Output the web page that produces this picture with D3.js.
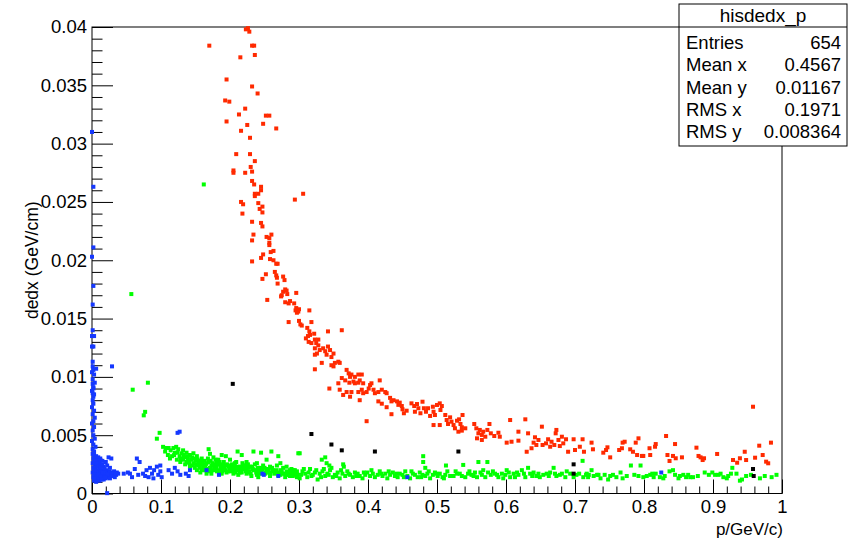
<!DOCTYPE html>
<html><head><meta charset="utf-8">
<script src="https://cdn.jsdelivr.net/npm/d3@7"></script>
<style>body{margin:0;background:#fff}svg{display:block}text{font-family:"Liberation Sans",Arial,Helvetica,sans-serif}</style>
</head><body><svg id="c" width="850" height="540"></svg>
<script>
// red band
const protonData=[
[0.223,0.0398],[0.226,0.0399],[0.228,0.0396],[0.170,0.0384],[0.232,0.0384],[0.235,0.0384],[0.215,0.0374],[0.236,0.0376],[0.195,0.0355],[0.232,0.0349],[0.240,0.0343],[0.193,0.0337],[0.199,0.0336],[0.222,0.0330],[0.213,0.0325],[0.252,0.0324],[0.257,0.0324],[0.195,0.0319],[0.225,0.0316],[0.248,0.0317],[0.267,0.0313],[0.216,0.0311],[0.229,0.0305],[0.209,0.0291],[0.229,0.0291],[0.236,0.0285],[0.230,0.0280],[0.205,0.0277],[0.205,0.0275],[0.222,0.0275],[0.232,0.0276],[0.232,0.0268],[0.235,0.0265],[0.245,0.0263],[0.245,0.0260],[0.236,0.0257],[0.241,0.0257],[0.236,0.0255],[0.306,0.0257],[0.294,0.0252],[0.216,0.0250],[0.219,0.0248],[0.241,0.0249],[0.247,0.0246],[0.243,0.0244],[0.247,0.0241],[0.218,0.0240],[0.232,0.0233],[0.245,0.0232],[0.247,0.0229],[0.234,0.0222],[0.232,0.0217],[0.253,0.0220],[0.257,0.0219],[0.260,0.0222],[0.257,0.0215],[0.257,0.0213],[0.263,0.0208],[0.259,0.0207],[0.248,0.0205],[0.245,0.0202],[0.232,0.0199],[0.258,0.0201],[0.263,0.0200],[0.267,0.0197],[0.269,0.0197],
[0.252,0.0188],[0.247,0.0184],[0.265,0.0190],[0.267,0.0187],[0.268,0.0185],[0.269,0.0180],[0.277,0.0186],[0.279,0.0183],[0.280,0.0175],[0.277,0.0173],[0.275,0.0170],[0.274,0.0169],[0.282,0.0174],[0.283,0.0171],[0.296,0.0172],[0.254,0.0166],[0.280,0.0164],[0.285,0.0163],[0.287,0.0165],[0.293,0.0163],[0.315,0.0157],[0.295,0.0157],[0.297,0.0155],[0.299,0.0156],[0.300,0.0158],[0.296,0.0159],[0.285,0.0147],[0.300,0.0148],[0.302,0.0145],[0.304,0.0144],[0.318,0.0147],[0.312,0.0142],[0.315,0.0139],[0.316,0.0136],[0.313,0.0135],[0.342,0.0139],[0.362,0.0140],[0.322,0.0137],[0.310,0.0133],[0.314,0.0130],[0.318,0.0129],[0.323,0.0132],[0.328,0.0132],[0.325,0.0129],
[0.323,0.01245],[0.326,0.0120],[0.328,0.0127],[0.330,0.0123],[0.335,0.01245],[0.338,0.0122],[0.340,0.0119],[0.342,0.0126],[0.345,0.0123],[0.347,0.0117],[0.350,0.0120],[0.323,0.0119],[0.333,0.0112],[0.323,0.01065],[0.347,0.0110],[0.352,0.0112],[0.357,0.0113],[0.359,0.0112],[0.350,0.0109],[0.369,0.0106],[0.372,0.0103],[0.374,0.0100],[0.376,0.0102],[0.381,0.0100],[0.386,0.0102],[0.391,0.0102],[0.379,0.0096],[0.381,0.00945],[0.386,0.0095],[0.388,0.0097],[0.393,0.00945],[0.367,0.0097],[0.373,0.0095],[0.362,0.0099],[0.357,0.00945],[0.359,0.0089],[0.364,0.00845],[0.369,0.0087],[0.374,0.0083],[0.376,0.0087],[0.344,0.0090],[0.388,0.0080],[0.386,0.0087],[0.391,0.0089],[0.393,0.0086],[0.398,0.0087],[0.401,0.0090],[0.403,0.0093],[0.405,0.00945],[0.408,0.0089],[0.410,0.0086],[0.415,0.0087],[0.417,0.0097],[0.420,0.0089],[0.425,0.0087],[0.427,0.0086],[0.415,0.0079],[0.420,0.0077],[0.427,0.0074],[0.432,0.0082],[0.434,0.0079],[0.437,0.0080],[0.442,0.0079],[0.444,0.0076],[0.434,0.0068],[0.398,0.0062],
[0.446,0.00779],[0.449,0.0075],[0.450,0.00722],[0.456,0.0071],[0.452,0.00688],[0.463,0.00773],[0.467,0.0075],[0.471,0.00767],[0.468,0.00701],[0.473,0.00731],[0.476,0.00688],[0.479,0.00787],[0.481,0.00731],[0.484,0.00701],[0.487,0.00731],[0.490,0.00665],[0.494,0.00744],[0.495,0.00701],[0.497,0.00673],[0.500,0.00759],[0.504,0.00773],[0.505,0.00716],[0.507,0.0075],[0.495,0.00587],[0.504,0.00587],[0.512,0.00673],[0.514,0.0063],[0.519,0.00653],[0.516,0.00596],[0.521,0.00616],[0.524,0.00587],[0.526,0.00559],[0.529,0.00624],[0.532,0.00636],[0.534,0.00596],[0.536,0.00568],[0.537,0.00673],[0.536,0.00539],[0.531,0.0053],[0.541,0.00559],[0.554,0.00596],[0.557,0.00559],[0.560,0.00516],[0.562,0.00545],[0.565,0.00502],[0.567,0.0053],[0.570,0.00487],[0.558,0.00473],[0.565,0.00459],[0.573,0.00545],[0.576,0.00596],[0.578,0.00516],[0.583,0.00493],[0.589,0.00521],[0.591,0.00487],[0.601,0.00436],[0.608,0.00444],[0.606,0.0063],[0.618,0.0053],[0.618,0.00453],[0.628,0.00636],[0.632,0.00516],[0.630,0.00358],[0.637,0.00388],[0.640,0.00436],[0.642,0.00482],[0.644,0.00416],[0.647,0.00459],[0.652,0.00573],[0.653,0.00416],[0.658,0.0043],[0.661,0.00465],[0.664,0.00401],[0.666,0.00444],[0.670,0.00416],[0.672,0.00516],[0.673,0.00545],[0.676,0.00459],[0.678,0.00407],[0.681,0.00487],[0.683,0.0043],[0.687,0.00465],[0.690,0.00358],[0.698,0.00465],[0.700,0.00373],[0.707,0.00401],[0.711,0.00465],[0.713,0.00358],[0.724,0.00436],[0.726,0.00379],
[0.741,0.0035],[0.745,0.00373],[0.747,0.00396],[0.751,0.0031],[0.764,0.00373],[0.768,0.00388],[0.769,0.00436],[0.772,0.00444],[0.780,0.00379],[0.784,0.00358],[0.788,0.00436],[0.792,0.00473],[0.790,0.0033],[0.797,0.00322],[0.799,0.00322],[0.808,0.00388],[0.809,0.0033],[0.816,0.00401],[0.817,0.00424],[0.832,0.00493],[0.834,0.0033],[0.837,0.00279],[0.842,0.00322],[0.845,0.00424],[0.846,0.00302],[0.855,0.0031],[0.876,0.00393],[0.879,0.00322],[0.882,0.0031],[0.885,0.00287],[0.887,0.00302],[0.906,0.00339],[0.929,0.00287],[0.935,0.00264],[0.939,0.00302],[0.946,0.00358],[0.948,0.00287],[0.958,0.00744],[0.961,0.00307],[0.967,0.0041],[0.972,0.0033],[0.977,0.00273],[0.980,0.00259],[0.984,0.00436]
];
// green band
const pionData=[
[0.057,0.0171],[0.081,0.0095],[0.059,0.0089],[0.077,0.0070],[0.075,0.0067],[0.094,0.0047],[0.098,0.0052],[0.162,0.0265],
[0.103,0.0040],[0.107,0.0039],[0.111,0.0039],[0.118,0.0039],[0.122,0.0040],[0.125,0.0038],[0.130,0.00345],[0.132,0.0037],[0.137,0.0035],[0.142,0.0033],[0.147,0.00345],[0.152,0.0032],[0.159,0.0030],[0.169,0.0038],[0.171,0.0034],[0.176,0.0031],[0.183,0.0029],[0.188,0.0033],[0.194,0.0032],[0.200,0.0029],[0.211,0.0036],[0.217,0.0033],[0.224,0.0027],[0.234,0.0036],[0.245,0.0035],[0.253,0.0029],[0.260,0.0036],[0.270,0.0032],[0.273,0.0026],[0.282,0.0023],[0.292,0.0020],[0.299,0.00345],
[0.116,0.0032],[0.123,0.0029],[0.128,0.0027],[0.132,0.0029],[0.135,0.0025],[0.140,0.0027],[0.142,0.0023],[0.147,0.0026],[0.149,0.0022],[0.154,0.0024],[0.159,0.0020],[0.164,0.0023],[0.166,0.0026],[0.171,0.0022],[0.176,0.0024],[0.178,0.0020],[0.181,0.0027],[0.186,0.0023],[0.190,0.0024],[0.193,0.0020],[0.198,0.0023],[0.202,0.0022],[0.207,0.0026],[0.210,0.0020],[0.215,0.0023],[0.219,0.0024],[0.224,0.0021],[0.229,0.0023],[0.234,0.0020],[0.239,0.0026],[0.244,0.0022],[0.248,0.0024],[0.253,0.0020],[0.258,0.0023],[0.263,0.0019],[0.268,0.0024],[0.273,0.0020],[0.277,0.0022],[0.282,0.0019],[0.287,0.0020],[0.292,0.0017],[0.297,0.0019],
[0.152,0.0020],[0.157,0.0018],[0.161,0.0021],[0.166,0.0017],[0.173,0.0017],[0.181,0.0019],[0.188,0.0017],[0.195,0.0018],[0.205,0.0017],[0.212,0.0016],[0.217,0.0018],[0.224,0.0017],[0.231,0.0015],[0.239,0.0016],[0.241,0.0014],[0.251,0.0017],[0.258,0.0015],[0.273,0.0016],[0.280,0.0014],[0.287,0.0015],[0.297,0.0014],
[0.106,0.0036],[0.110,0.0033],[0.113,0.0030],[0.120,0.0035],[0.127,0.0032],[0.134,0.0031],[0.139,0.0030],[0.144,0.0029],[0.150,0.0028],[0.155,0.0027],[0.160,0.0026],[0.163,0.0028],[0.168,0.0030],[0.172,0.0028],[0.175,0.0026],[0.179,0.0029],[0.182,0.0025],[0.185,0.0027],[0.187,0.0021],[0.191,0.0027],[0.196,0.0025],[0.199,0.0021],[0.203,0.0025],[0.206,0.0023],[0.209,0.0027],[0.213,0.0021],[0.218,0.0026],[0.221,0.0022],[0.226,0.0025],[0.228,0.0019],[0.232,0.0023],[0.236,0.0025],[0.238,0.0018],[0.242,0.0020],[0.246,0.0019],[0.250,0.0022],[0.255,0.0021],[0.257,0.0018],[0.261,0.0022],[0.265,0.0017],[0.267,0.0020],[0.271,0.0018],[0.275,0.0019],[0.279,0.0017],[0.284,0.0018],[0.289,0.0017],[0.294,0.0016],[0.157,0.0025],[0.146,0.0024],[0.137,0.0027],[0.163,0.0020],[0.170,0.0019],[0.177,0.0022],[0.184,0.0018],[0.192,0.0022],[0.201,0.0019],[0.208,0.0018],[0.216,0.0020],[0.223,0.0019],[0.230,0.0017],
[0.114,0.0037],[0.119,0.0033],[0.124,0.0035],[0.129,0.0030],[0.133,0.0033],[0.138,0.0032],[0.141,0.0026],[0.145,0.0031],[0.148,0.0030],[0.151,0.0025],[0.153,0.0029],[0.156,0.0022],[0.158,0.0028],[0.161,0.0024],[0.165,0.0025],[0.167,0.0021],[0.169,0.0027],[0.173,0.0024],[0.174,0.0020],[0.178,0.0025],[0.180,0.0022],[0.183,0.0020],[0.186,0.0025],[0.189,0.0019],[0.190,0.0021],[0.194,0.0024],[0.197,0.0019],[0.200,0.0024],[0.204,0.0020],[0.207,0.0021],[0.211,0.0023],[0.214,0.0018],[0.219,0.0021],[0.222,0.0024],[0.225,0.0018],[0.227,0.0022],[0.233,0.0021],[0.237,0.0020],[0.240,0.0022],[0.243,0.0017],[0.247,0.0021],[0.252,0.0018],[0.256,0.0020],[0.259,0.0017],[0.262,0.0020],[0.266,0.0019],[0.270,0.0016],[0.276,0.0017],[0.281,0.0016],[0.285,0.0016],
[0.287,0.0018],[0.291,0.0015],[0.294,0.0020],[0.298,0.0016],[0.301,0.0013],[0.305,0.0019],[0.309,0.0017],[0.312,0.0014],[0.316,0.0021],[0.320,0.0016],[0.323,0.0018],[0.327,0.0012],[0.330,0.0017],[0.334,0.0019],[0.338,0.0015],[0.341,0.0017],[0.345,0.0020],[0.349,0.0014],[0.352,0.0016],[0.356,0.0018],[0.359,0.0013],[0.363,0.0017],[0.367,0.0015],[0.370,0.0019],[0.374,0.0016],[0.378,0.0014],[0.381,0.0018],[0.385,0.0017],[0.388,0.0015],[0.392,0.0013],[0.396,0.0016],[0.399,0.0018],[0.403,0.0015],[0.407,0.0017],[0.410,0.0014],[0.414,0.0016],[0.417,0.0019],[0.421,0.0015],[0.425,0.0017],[0.428,0.0013],[0.432,0.0016],[0.436,0.0018],[0.439,0.0015],[0.443,0.0014],[0.446,0.0017],[0.450,0.0016],[0.454,0.0019],[0.457,0.0015],[0.461,0.0013],[0.465,0.0017],[0.468,0.0016],[0.472,0.0014],[0.475,0.0018],[0.479,0.0016],[0.483,0.0015],[0.486,0.0017],[0.490,0.0013],[0.494,0.0016],[0.497,0.0018],[0.501,0.0015],[0.504,0.0017],[0.508,0.0014],[0.512,0.0016],[0.515,0.0019],[0.519,0.0015],
[0.289,0.0021],[0.296,0.0017],[0.303,0.0016],[0.307,0.0021],[0.314,0.0018],[0.318,0.0015],[0.325,0.0020],[0.332,0.0014],[0.336,0.0021],[0.343,0.0016],[0.347,0.0022],[0.354,0.0015],[0.361,0.0020],[0.372,0.0017],[0.383,0.0015],[0.394,0.0018],[0.405,0.0020],[0.419,0.0017],[0.430,0.0019],[0.441,0.0017],[0.452,0.0014],[0.463,0.0019],[0.477,0.0014],[0.488,0.0019],[0.499,0.0017],[0.510,0.0013],
[0.301,0.00345],[0.333,0.0029],[0.338,0.0031],[0.340,0.0026],[0.344,0.0024],[0.364,0.0025],[0.365,0.0023],[0.480,0.0032],[0.480,0.0027],[0.483,0.0022],[0.513,0.0024],
[0.524,0.0015],[0.529,0.0017],[0.533,0.0017],[0.538,0.00245],[0.541,0.0014],[0.545,0.0017],[0.550,0.0016],[0.555,0.0018],[0.558,0.0014],[0.560,0.0027],[0.565,0.0016],[0.567,0.0020],[0.570,0.0014],[0.573,0.0027],[0.574,0.0018],[0.578,0.0016],[0.584,0.0017],[0.589,0.0014],[0.594,0.0017],[0.599,0.0016],[0.601,0.0020],[0.606,0.0014],[0.611,0.0017],[0.613,0.0014],[0.618,0.0016],[0.623,0.0020],[0.628,0.0014],[0.632,0.0022],[0.635,0.0017],[0.640,0.0018],[0.644,0.0015],[0.649,0.0014],[0.659,0.0017],[0.664,0.0018],[0.669,0.0022],[0.673,0.0015],[0.681,0.0017],[0.686,0.0014],[0.688,0.0019],[0.698,0.0014],[0.702,0.0016],[0.711,0.0028],[0.712,0.0014],[0.717,0.0017],[0.724,0.0020],[0.727,0.0015],[0.734,0.0016],
[0.527,0.0019],[0.536,0.0015],[0.547,0.0019],[0.553,0.0015],[0.563,0.0018],[0.581,0.0019],[0.587,0.0016],[0.596,0.0013],[0.604,0.0018],[0.616,0.0018],[0.626,0.0017],[0.638,0.0015],[0.647,0.0017],[0.654,0.0016],[0.662,0.0015],[0.671,0.0017],[0.678,0.0016],[0.693,0.0017],[0.706,0.0017],[0.720,0.0016],
[0.716,0.0016],[0.719,0.0014],[0.732,0.0016],[0.737,0.0013],[0.743,0.0016],[0.748,0.0012],[0.751,0.0015],[0.766,0.0018],[0.769,0.0013],[0.781,0.0024],[0.792,0.0015],[0.795,0.0024],[0.799,0.0014],[0.804,0.0015],[0.809,0.0016],[0.814,0.0014],[0.817,0.0017],[0.823,0.0014],[0.828,0.0013],[0.830,0.0015],[0.837,0.0019],[0.842,0.0020],[0.850,0.0013],[0.857,0.0016],[0.861,0.0014],[0.867,0.0014],[0.871,0.0014],[0.888,0.0018],[0.899,0.0018],[0.903,0.0016],[0.908,0.0016],[0.915,0.0014],[0.920,0.0013],[0.922,0.0015],[0.926,0.0017],[0.928,0.0022],[0.934,0.0017],[0.939,0.0011],[0.942,0.0012],[0.968,0.0013],[0.985,0.0014],
[0.755,0.0016],[0.760,0.0014],[0.775,0.0015],[0.786,0.0016],[0.812,0.0017],[0.845,0.0016],[0.852,0.0015],[0.864,0.0016],[0.878,0.0015],[0.894,0.0016],[0.911,0.0017],[0.948,0.0015],[0.955,0.0016],[0.975,0.0015],[0.992,0.0016]
];
// blue band
const electronData=[
[0.000,0.0310],[0.002,0.0263],[0.002,0.0211],[0.000,0.0203],[0.002,0.0178],[0.001,0.0162],[0.001,0.0140],[0.000,0.0135],[0.003,0.0135],[0.000,0.0126],[0.002,0.0126],[0.001,0.0113],[0.029,0.0109],[0.001,0.0109],[0.006,0.0107],[0.000,0.0104],[0.002,0.0106],[0.001,0.0094],[0.002,0.0090],[0.001,0.0086],[0.002,0.0083],
[0.003,0.0102],[0.001,0.0098],[0.004,0.0095],[0.002,0.0091],[0.000,0.0088],[0.003,0.0085],[0.001,0.0080],[0.002,0.0077],[0.000,0.0074],[0.003,0.0071],[0.001,0.0068],[0.004,0.0065],[0.002,0.0062],[0.000,0.0060],[0.003,0.0057],[0.001,0.0054],[0.002,0.0050],[0.004,0.0047],[0.000,0.0045],[0.002,0.0042],[0.005,0.0040],[0.001,0.0038],[0.003,0.0036],
[0.001,0.0034],[0.003,0.0033],[0.006,0.0032],[0.009,0.0031],[0.012,0.0030],[0.002,0.0030],[0.005,0.0029],[0.008,0.0028],[0.011,0.0027],[0.015,0.0028],[0.024,0.0031],[0.028,0.0030],[0.020,0.0027],[0.001,0.0026],[0.004,0.0025],[0.007,0.0024],[0.010,0.0025],[0.013,0.0024],[0.017,0.0023],[0.022,0.0024],[0.026,0.0022],[0.002,0.0022],[0.005,0.0021],[0.008,0.0020],[0.011,0.0021],[0.014,0.0020],[0.018,0.0019],[0.021,0.0020],[0.025,0.0019],[0.029,0.0018],[0.032,0.0019],[0.036,0.0018],[0.001,0.0018],[0.004,0.0017],[0.007,0.0016],[0.010,0.0017],[0.013,0.0016],[0.016,0.0017],[0.019,0.0016],[0.023,0.0015],[0.027,0.0016],[0.031,0.0015],[0.035,0.0016],[0.038,0.0017],[0.002,0.0014],[0.005,0.0013],[0.008,0.0014],[0.012,0.0013],[0.015,0.0014],[0.020,0.0013],[0.024,0.0014],[0.003,0.0011],[0.007,0.0012],[0.011,0.0011],[0.017,0.0012],[0.022,0.00003],
[0.003,0.0028],[0.006,0.0026],[0.009,0.0023],[0.012,0.0022],[0.015,0.0025],[0.018,0.0021],[0.003,0.0020],[0.006,0.0019],[0.009,0.0018],[0.012,0.0019],[0.015,0.0018],[0.019,0.0018],[0.022,0.0017],[0.026,0.0018],[0.030,0.0017],[0.034,0.0017],[0.003,0.0016],[0.006,0.0015],[0.009,0.0016],[0.012,0.0015],[0.018,0.0015],[0.022,0.0016],[0.028,0.0015],[0.033,0.0014],[0.004,0.0013],[0.010,0.0012],[0.014,0.0012],[0.019,0.0014],[0.026,0.0013],[0.006,0.0010],
[0.055,0.0017],[0.065,0.0030],[0.069,0.0027],[0.058,0.0014],[0.062,0.0021],[0.067,0.0016],[0.074,0.0017],[0.079,0.0020],[0.082,0.0014],[0.084,0.0022],[0.087,0.0017],[0.090,0.0020],[0.094,0.0023],[0.096,0.0016],[0.099,0.0019],[0.101,0.0014],[0.099,0.0024],[0.111,0.0020],[0.116,0.0017],[0.120,0.0022],[0.124,0.0019],[0.128,0.0016],[0.136,0.0017],[0.140,0.0015],[0.142,0.0020],[0.124,0.0052],[0.127,0.0053],[0.046,0.0017],[0.052,0.0018],[0.077,0.0015],[0.089,0.0013],
[0.166,0.0020],[0.184,0.0016],[0.247,0.0017],[0.249,0.0016],[0.270,0.0015],[0.457,0.0014],[0.825,0.0018]
];
// black
const otherData=[[0.204,0.0094],[0.318,0.0051],[0.347,0.0042],[0.362,0.0037],[0.410,0.0036],[0.531,0.0036],[0.698,0.0025],[0.698,0.0017],[0.958,0.0021],[0.959,0.0015]];

const seriesColors=["#ff2a00","#00ff00","#1538ff","#000000"];
const xTicks=[0,0.1,0.2,0.3,0.4,0.5,0.6,0.7,0.8,0.9,1];
const xTickLabels=["0","0.1","0.2","0.3","0.4","0.5","0.6","0.7","0.8","0.9","1"];
const yTicks=[0,0.005,0.01,0.015,0.02,0.025,0.03,0.035,0.04];
const yTickLabels=["0","0.005","0.01","0.015","0.02","0.025","0.03","0.035","0.04"];
const xTitle="p/GeV/c)", yTitle="dedx (GeV/cm)";
const statTitle="hisdedx_p";
const statLabels=["Entries","Mean x","Mean y","RMS x","RMS y"];
const statValues=["654","0.4567","0.01167","0.1971","0.008364"];

const svg=d3.select("#c");
const L=92,R=782,T=27,B=493.5;
const x=d3.scaleLinear().domain([0,1]).range([L,R]);
const y=d3.scaleLinear().domain([0,0.04]).range([B,T]);

// axes
const minorX=d3.range(0,50).map(i=>i*0.02).filter(v=>Math.abs(v*10-Math.round(v*10))>1e-6);
const minorY=d3.range(0,40).map(i=>i*0.001).filter(v=>Math.abs(v*200-Math.round(v*200))>1e-6);
const gx=svg.append("g").attr("transform",`translate(0,${B})`);
gx.call(d3.axisBottom(x).tickValues(xTicks).tickFormat((d,i)=>xTickLabels[i]).tickSizeInner(-14).tickSizeOuter(0).tickPadding(6));
const gxm=svg.append("g").attr("transform",`translate(0,${B})`);
gxm.call(d3.axisBottom(x).tickValues(minorX).tickFormat("").tickSizeInner(-7).tickSizeOuter(0));
const gy=svg.append("g").attr("transform",`translate(${L},0)`);
gy.call(d3.axisLeft(y).tickValues(yTicks).tickFormat((d,i)=>yTickLabels[i]).tickSizeInner(-21).tickSizeOuter(0).tickPadding(5));
const gym=svg.append("g").attr("transform",`translate(${L},0)`);
gym.call(d3.axisLeft(y).tickValues(minorY).tickFormat("").tickSizeInner(-10.5).tickSizeOuter(0));
svg.selectAll(".domain").remove();
svg.selectAll(".tick line").attr("stroke","#000").attr("stroke-width",1);
svg.selectAll(".tick text").attr("font-size",18.5).attr("fill","#000").style("font-family",'"Liberation Sans",Arial,sans-serif');

// frame
svg.append("rect").attr("x",L).attr("y",T).attr("width",R-L).attr("height",B-T).attr("fill","none").attr("stroke","#000").attr("stroke-width",1);

// points
const all=[protonData,pionData,electronData,otherData];
all.forEach((data,k)=>{
  svg.append("g").selectAll("rect").data(data).join("rect")
    .attr("x",d=>x(d[0])-2).attr("y",d=>y(d[1])-2).attr("width",4).attr("height",4)
    .attr("fill",seriesColors[k]);
});

// titles
svg.append("text").attr("x",R+1).attr("y",535).attr("text-anchor","end").attr("font-size",17).text(xTitle);
svg.append("text").attr("transform",`translate(38,${(T+B)/2}) rotate(-90)`).attr("text-anchor","middle").attr("font-size",17.5).text(yTitle);

// stats box
const bx=679,bw=168,by=4,bh=142,rowH=22.3;
const sb=svg.append("g");
sb.append("rect").attr("x",bx).attr("y",by).attr("width",bw).attr("height",bh).attr("fill","#fff").attr("stroke","#000");
sb.append("line").attr("x1",bx).attr("x2",bx+bw).attr("y1",27).attr("y2",27).attr("stroke","#000");
sb.append("text").attr("x",bx+bw/2).attr("y",22).attr("text-anchor","middle").attr("font-size",19).text(statTitle);
statLabels.forEach((l,i)=>{
  const yy=49+i*rowH;
  sb.append("text").attr("x",bx+7).attr("y",yy).attr("font-size",18.5).text(l);
  sb.append("text").attr("x",bx+bw-6).attr("y",yy).attr("text-anchor","end").attr("font-size",18.5).text(statValues[i]);
});
</script></body></html>
